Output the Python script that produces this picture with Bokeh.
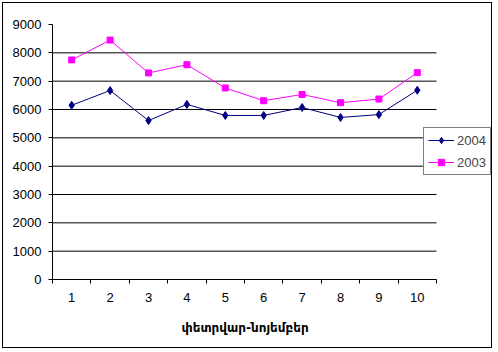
from bokeh.plotting import figure
from bokeh.models import FixedTicker, Legend, LegendItem, Title
from bokeh.embed import file_html
from bokeh.resources import INLINE

months = [1, 2, 3, 4, 5, 6, 7, 8, 9, 10]
y2004 = [6150, 6670, 5610, 6180, 5790, 5790, 6070, 5720, 5820, 6680]
y2003 = [7750, 8450, 7290, 7580, 6760, 6310, 6530, 6240, 6370, 7300]
y_ticks = [0, 1000, 2000, 3000, 4000, 5000, 6000, 7000, 8000, 9000]
x_label = "փետրվար-նոյեմբեր"

W, H = 490, 346
LEFT, RIGHT = 49, 1
frame_w = W - LEFT - RIGHT
x_lo = months[0] - 0.5
x_hi_cat = months[-1] + 0.5
x_hi = x_lo + (x_hi_cat - x_lo) * frame_w / 384.0

p = figure(width=W, height=H, output_backend="svg", toolbar_location=None,
           x_range=(x_lo, x_hi), y_range=(y_ticks[0], y_ticks[-1]),
           min_border_left=LEFT, min_border_right=RIGHT, min_border_top=21, min_border_bottom=70)
p.styles = {"margin-left": "2px", "margin-top": "2px", "border": "1px solid black"}
p.outline_line_color = None
p.background_fill_color = "white"
p.border_fill_color = "white"

p.xgrid.visible = False
p.ygrid.visible = False
grid_y = y_ticks[1:-1]
p.segment(x0=[x_lo] * len(grid_y), x1=[x_hi_cat] * len(grid_y), y0=grid_y, y1=grid_y,
          line_color="black", line_width=1)

# y axis
p.yaxis.ticker = FixedTicker(ticks=y_ticks)
p.yaxis.minor_tick_line_color = None
p.yaxis.major_tick_out = 4
p.yaxis.major_tick_in = 0
p.yaxis.major_label_standoff = 7
p.yaxis.axis_line_color = "black"
p.yaxis.major_tick_line_color = "black"
p.yaxis.major_label_text_font = "Liberation Sans"
p.yaxis.major_label_text_font_size = "13px"
p.yaxis.major_label_text_color = "black"

# x axis
p.xaxis.bounds = (x_lo, x_hi_cat)
p.xaxis.ticker = FixedTicker(ticks=months, minor_ticks=[m - 0.5 for m in months] + [x_hi_cat])
p.xaxis.major_tick_out = 0
p.xaxis.major_tick_in = 0
p.xaxis.minor_tick_out = 4
p.xaxis.minor_tick_in = 0
p.xaxis.minor_tick_line_color = "black"
p.xaxis.major_label_standoff = 9
p.xaxis.axis_line_color = "black"
p.xaxis.major_label_text_font = "Liberation Sans"
p.xaxis.major_label_text_font_size = "13px"
p.xaxis.major_label_text_color = "black"

# small spacer, then the x axis title centred under the category area
p.add_layout(Title(text=" ", text_font_size="4px", standoff=0), "below")
xt = Title(text=x_label, align="left", offset=129, standoff=14,
           text_font="DejaVu Sans", text_font_style="bold", text_font_size="12px",
           text_color="black")
p.add_layout(xt, "below")

navy = "#000080"
mag = "#FF00FF"
l1 = p.line(months, y2004, line_color=navy, line_width=1)
m1 = p.scatter(months, y2004, marker="diamond", size=8, fill_color=navy, line_color=navy)
l2 = p.line(months, y2003, line_color=mag, line_width=1)
m2 = p.scatter(months, y2003, marker="square", size=6, fill_color=mag, line_color=mag)

legend = Legend(items=[LegendItem(label="2004", renderers=[l1, m1]),
                       LegendItem(label="2003", renderers=[l2, m2])],
                location=(371, 104), padding=4, spacing=6, margin=0,
                glyph_width=26, glyph_height=16, label_standoff=3,
                label_text_font="Liberation Sans", label_text_font_size="13px",
                border_line_color="black", border_line_width=1,
                background_fill_color="white", background_fill_alpha=1)
p.add_layout(legend)

open("out.html", "w").write(file_html(p, INLINE))
